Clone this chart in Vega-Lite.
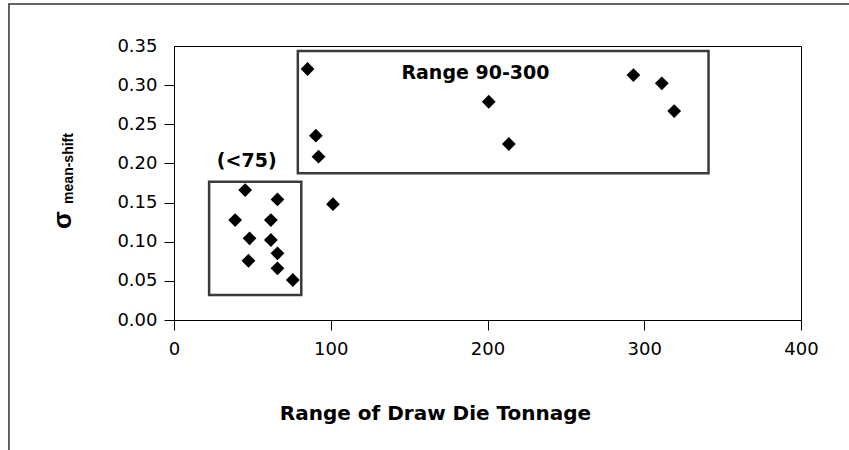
{
  "$schema": "https://vega.github.io/schema/vega-lite/v6.json",
  "width": 627,
  "height": 274,
  "autosize": {"type": "none"},
  "padding": {"left": 174, "top": 46, "right": 48, "bottom": 130},
  "background": "white",
  "config": {
    "view": {"stroke": "black", "strokeWidth": 1},
    "font": "DejaVu Sans",
    "axis": {"labelOverlap": false, "labelFlush": false}
  },
  "title": {
    "text": "σ",
    "orient": "left",
    "frame": "group",
    "anchor": "middle",
    "font": "Liberation Sans",
    "fontSize": 26,
    "fontWeight": "bold",
    "color": "black",
    "baseline": "alphabetic",
    "offset": 0,
    "dx": -37,
    "dy": 89
  },
  "datasets": {
    "points": [
      {"tonnage": 85.2, "sigma": 0.3206},
      {"tonnage": 90.5, "sigma": 0.2354},
      {"tonnage": 92.2, "sigma": 0.2086},
      {"tonnage": 200.8, "sigma": 0.2788},
      {"tonnage": 213.6, "sigma": 0.2248},
      {"tonnage": 101.4, "sigma": 0.148},
      {"tonnage": 45.4, "sigma": 0.166},
      {"tonnage": 66.0, "sigma": 0.154},
      {"tonnage": 39.0, "sigma": 0.1277},
      {"tonnage": 61.8, "sigma": 0.1277},
      {"tonnage": 48.2, "sigma": 0.1043},
      {"tonnage": 61.8, "sigma": 0.1022},
      {"tonnage": 66.0, "sigma": 0.0852},
      {"tonnage": 47.5, "sigma": 0.0757},
      {"tonnage": 66.0, "sigma": 0.066},
      {"tonnage": 75.8, "sigma": 0.0511},
      {"tonnage": 293.1, "sigma": 0.3129},
      {"tonnage": 311.2, "sigma": 0.3023},
      {"tonnage": 319.1, "sigma": 0.2669}
    ],
    "boxes": [
      {"x1": 22.4, "x2": 81.2, "y1": 0.0319, "y2": 0.1766},
      {"x1": 79.0, "x2": 341.0, "y1": 0.1874, "y2": 0.3436}
    ],
    "labels": [
      {"label": "(<75)", "x": 46.4, "y": 0.1958},
      {"label": "Range 90-300", "x": 192.3, "y": 0.3078}
    ]
  },
  "layer": [
    {
      "data": {"name": "points"},
      "mark": {"type": "point", "shape": "diamond", "filled": true, "color": "black", "size": 190, "opacity": 1},
      "encoding": {
        "x": {
          "field": "tonnage",
          "type": "quantitative",
          "scale": {"domain": [0, 400], "nice": false},
          "axis": {
            "values": [0, 100, 200, 300, 400],
            "tickCount": 5,
            "format": "d",
            "grid": false,
            "labelFlush": false,
            "labelOverlap": false,
            "title": "Range of Draw Die Tonnage",
            "titleFont": "DejaVu Sans",
            "titleFontSize": 20,
            "titleFontWeight": "bold",
            "titleColor": "black",
            "titleX": 261,
            "titleY": 99,
            "titleAlign": "center",
            "titleBaseline": "alphabetic",
            "labelFont": "DejaVu Sans",
            "labelFontSize": 18,
            "labelColor": "black",
            "labelPadding": 10,
            "tickSize": 10,
            "tickColor": "black",
            "domainColor": "black"
          }
        },
        "y": {
          "field": "sigma",
          "type": "quantitative",
          "scale": {"domain": [0, 0.35], "nice": false},
          "axis": {
            "values": [0, 0.05, 0.1, 0.15, 0.2, 0.25, 0.3, 0.35],
            "tickCount": 8,
            "format": ".2f",
            "grid": false,
            "labelFlush": false,
            "labelOverlap": false,
            "title": "mean-shift",
            "titleFont": "Liberation Sans",
            "titleFontSize": 14,
            "titleFontWeight": "bold",
            "titleColor": "black",
            "titleAngle": -90,
            "titleX": -102,
            "titleY": 122,
            "titleAlign": "center",
            "titleBaseline": "alphabetic",
            "labelFont": "DejaVu Sans",
            "labelFontSize": 18,
            "labelColor": "black",
            "labelPadding": 7,
            "tickSize": 10,
            "tickColor": "black",
            "tickOpacity": {"condition": {"test": "datum.value > 0.34", "value": 0}, "value": 1},
            "domainColor": "black"
          }
        }
      }
    },
    {
      "data": {"values": [{}]},
      "mark": {"type": "rect", "fill": null, "stroke": "#333333", "strokeWidth": 1.5, "clip": false},
      "encoding": {
        "x": {"datum": -105.3, "type": "quantitative"},
        "x2": {"datum": 470},
        "y": {"datum": 0.4036, "type": "quantitative"},
        "y2": {"datum": -0.3}
      }
    },
    {
      "data": {"name": "boxes"},
      "mark": {"type": "rect", "fill": null, "stroke": "#3a3a3a", "strokeWidth": 2.5},
      "encoding": {
        "x": {"field": "x1", "type": "quantitative"},
        "x2": {"field": "x2"},
        "y": {"field": "y1", "type": "quantitative"},
        "y2": {"field": "y2"}
      }
    },
    {
      "data": {"name": "labels"},
      "mark": {"type": "text", "font": "DejaVu Sans", "fontSize": 19, "fontWeight": "bold", "color": "black", "align": "center", "baseline": "alphabetic"},
      "encoding": {
        "x": {"field": "x", "type": "quantitative"},
        "y": {"field": "y", "type": "quantitative"},
        "text": {"field": "label"}
      }
    }
  ]
}
